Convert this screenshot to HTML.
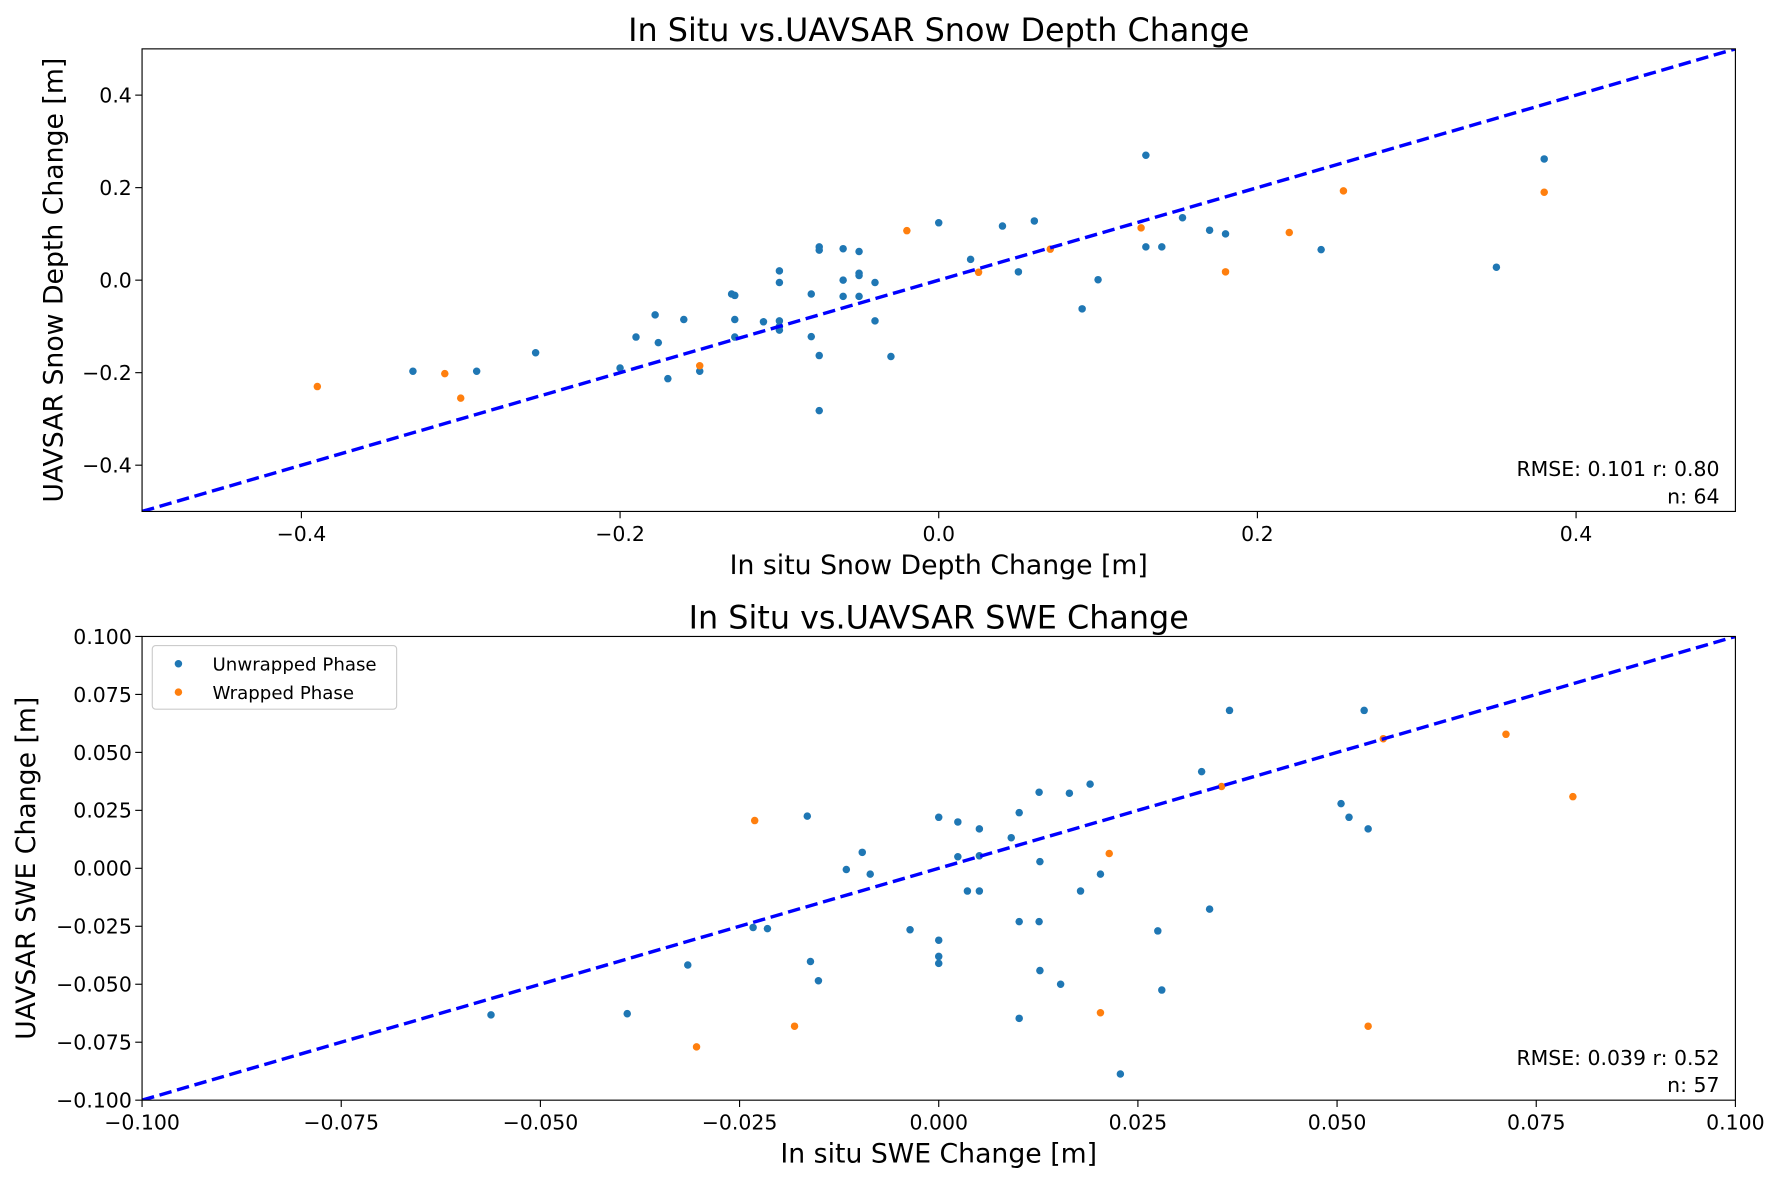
<!DOCTYPE html>
<html><head><meta charset="utf-8">
<style>
html,body{margin:0;padding:0;background:#fff;}
svg{display:block;font-family:"DejaVu Sans","Liberation Sans",sans-serif;}
</style></head>
<body>
<svg id="fig" width="1782" height="1182" viewBox="0 0 1568 1040" preserveAspectRatio="none" xmlns="http://www.w3.org/2000/svg">
<rect width="1568" height="1040" fill="#fff"/>
</svg>
<script>
// ---- top chart data: snow depth change ----
const depthUnwrappedX = [-0.33,-0.29,-0.253,-0.2,-0.19,-0.178,-0.176,-0.17,-0.16,-0.15,-0.13,-0.128,-0.128,-0.128,-0.11,-0.1,-0.1,-0.1,-0.1,-0.1,-0.08,-0.08,-0.075,-0.075,-0.075,-0.075,-0.06,-0.06,-0.06,-0.05,-0.05,-0.05,-0.05,-0.04,-0.04,-0.03,0.0,0.02,0.04,0.05,0.06,0.09,0.1,0.13,0.13,0.14,0.153,0.17,0.18,0.24,0.35,0.38];
const depthUnwrappedY = [-0.197,-0.197,-0.157,-0.19,-0.123,-0.075,-0.135,-0.213,-0.085,-0.197,-0.03,-0.033,-0.085,-0.123,-0.09,0.02,-0.005,-0.088,-0.1,-0.108,-0.03,-0.122,0.072,0.065,-0.163,-0.282,0.068,0.0,-0.035,0.062,0.015,0.01,-0.035,-0.005,-0.088,-0.165,0.124,0.045,0.117,0.018,0.128,-0.062,0.001,0.27,0.072,0.072,0.135,0.108,0.1,0.066,0.028,0.262];
const depthWrappedX = [-0.39,-0.31,-0.3,-0.15,-0.02,0.025,0.07,0.127,0.18,0.22,0.254,0.38];
const depthWrappedY = [-0.23,-0.202,-0.255,-0.185,0.107,0.017,0.067,0.113,0.018,0.103,0.193,0.19];
const depthTicks = [-0.4,-0.2,0.0,0.2,0.4];
const depthTickLabels = ["\u22120.4","\u22120.2","0.0","0.2","0.4"];
const depthStats = ["RMSE: 0.101 r: 0.80","n: 64"];

// ---- bottom chart data: SWE change ----
const sweUnwrappedX = [-0.0562,-0.0391,-0.0315,-0.0233,-0.0215,-0.0165,-0.0161,-0.0151,-0.0116,-0.0096,-0.0086,-0.0036,0,0,0,0,0.0024,0.0024,0.0051,0.0051,0.0036,0.0051,0.0091,0.0101,0.0101,0.0126,0.0127,0.0126,0.0127,0.0101,0.0153,0.0164,0.019,0.0178,0.0203,0.0228,0.0275,0.028,0.033,0.034,0.0365,0.0505,0.0515,0.0534,0.0539];
const sweUnwrappedY = [-0.0632,-0.0627,-0.0417,-0.0255,-0.026,0.0225,-0.0402,-0.0485,-0.0005,0.0069,-0.0025,-0.0265,0.022,-0.031,-0.038,-0.041,0.020,0.005,0.017,0.0054,-0.0098,-0.0098,0.0132,0.024,-0.023,0.0328,0.0029,-0.023,-0.0441,-0.0647,-0.05,0.0324,0.0363,-0.0098,-0.0025,-0.0887,-0.027,-0.0525,0.0417,-0.0176,0.0681,0.0279,0.022,0.0681,0.017];
const sweWrappedX = [-0.0231,-0.0304,-0.0181,0.0203,0.0214,0.0355,0.0558,0.0539,0.0712,0.0796];
const sweWrappedY = [0.0206,-0.077,-0.0681,-0.0623,0.0064,0.0353,0.0559,-0.0681,0.0578,0.0309];
const sweTicks = [-0.1,-0.075,-0.05,-0.025,0,0.025,0.05,0.075,0.1];
const sweTickLabels = ["\u22120.100","\u22120.075","\u22120.050","\u22120.025","0.000","0.025","0.050","0.075","0.100"];
const sweStats = ["RMSE: 0.039 r: 0.52","n: 57"];

const NS = "http://www.w3.org/2000/svg";
const svg = document.getElementById('fig');
function mk(tag, attrs, parent){
  const e = document.createElementNS(NS, tag);
  for (const k in attrs) e.setAttribute(k, attrs[k]);
  (parent||svg).appendChild(e);
  return e;
}
const BLUE = "#1f77b4", ORANGE = "#ff7f0e";

function chart(cfg){
  const L=125, R=1527, T=cfg.top, B=cfg.bottom;
  const sx = v => L + (v - cfg.min) / (cfg.max - cfg.min) * (R - L);
  const sy = v => B - (v - cfg.min) / (cfg.max - cfg.min) * (B - T);
  const g = mk('g', {});
  
  
  const title = mk('text', {x:(L+R)/2, y:T-7, 'text-anchor':'middle', 'font-size':28, fill:'#000'}, g);
  title.textContent = cfg.title;
  
  
  cfg.ticks.forEach((t,i)=>{
    const x = sx(t), y = sy(t);
    const tx = mk('line', {x1:x, x2:x, y1:B, y2:B+6, stroke:'#000', 'stroke-width':1}, g);
    
    
    const lx = mk('text', {x:x, y:B+26, 'text-anchor':'middle', 'font-size':18}, g);
    lx.textContent = cfg.labels[i];
    
    
    const ty = mk('line', {x1:L-6, x2:L, y1:y, y2:y, stroke:'#000', 'stroke-width':1}, g);
    
    
    const ly = mk('text', {x:L-9, y:y+6.5, 'text-anchor':'end', 'font-size':18}, g);
    ly.textContent = cfg.labels[i];
    
    
  });
  const xl = mk('text', {x:(L+R)/2, y:B+55, 'text-anchor':'middle', 'font-size':23.5}, g);
  xl.textContent = cfg.xlabel;
  
  
  const yl = mk('text', {x:0, y:0, 'text-anchor':'middle', 'font-size':23.5, transform:`translate(${cfg.ylabelX},${(T+B)/2}) rotate(-90)`}, g);
  yl.textContent = cfg.ylabel;
  
  
  const cid = 'clip-' + cfg.name;
  const cp = mk('clipPath', {id:cid}, g);
  mk('rect', {x:L, y:T, width:R-L, height:B-T}, cp);
  const plot = mk('g', {'clip-path':`url(#${cid})`}, g);
  
  
  cfg.ux.forEach((v,i)=>{
    const c = mk('circle', {cx:sx(v), cy:sy(cfg.uy[i]), r:3.3, fill:BLUE}, plot);
    
    
  });
  cfg.wx.forEach((v,i)=>{
    const c = mk('circle', {cx:sx(v), cy:sy(cfg.wy[i]), r:3.3, fill:ORANGE}, plot);
    
    
  });
  const ln = mk('line', {x1:sx(cfg.min), y1:sy(cfg.min), x2:sx(cfg.max), y2:sy(cfg.max), stroke:'#0000ff', 'stroke-width':3, 'stroke-dasharray':'11,5'}, plot);
  
  
  const fr = mk('rect', {x:L, y:T, width:R-L, height:B-T, fill:'none', stroke:'#000', 'stroke-width':1}, g);
  
  
  cfg.stats.forEach((s,i)=>{
    const st = mk('text', {x:R-14, y:B-31+i*24, 'text-anchor':'end', 'font-size':18}, g);
    st.textContent = s;
    
    
  });
}

chart({name:'snow-depth-chart', top:43, bottom:450, min:-0.5, max:0.5, ticks:depthTicks, labels:depthTickLabels,
  title:'In Situ vs.UAVSAR Snow Depth Change', xlabel:'In situ Snow Depth Change [m]', ylabel:'UAVSAR Snow Depth Change [m]', ylabelX:55,
  ux:depthUnwrappedX, uy:depthUnwrappedY, wx:depthWrappedX, wy:depthWrappedY, stats:depthStats});
chart({name:'swe-chart', top:560, bottom:968, min:-0.1, max:0.1, ticks:sweTicks, labels:sweTickLabels,
  title:'In Situ vs.UAVSAR SWE Change', xlabel:'In situ SWE Change [m]', ylabel:'UAVSAR SWE Change [m]', ylabelX:31,
  ux:sweUnwrappedX, uy:sweUnwrappedY, wx:sweWrappedX, wy:sweWrappedY, stats:sweStats});

const lg = mk('g', {});


mk('rect', {x:134, y:568, width:215, height:56, rx:3, fill:'#fff', stroke:'#ccc', 'stroke-width':1}, lg);
[['Unwrapped Phase', BLUE, 584], ['Wrapped Phase', ORANGE, 609]].forEach(([t,c,y])=>{
  const e = mk('g', {}, lg);
  
  
  mk('circle', {cx:157, cy:y, r:3.3, fill:c}, e);
  const tx = mk('text', {x:187, y:y+6, 'font-size':16}, e);
  tx.textContent = t;
});
</script>
</body></html>
